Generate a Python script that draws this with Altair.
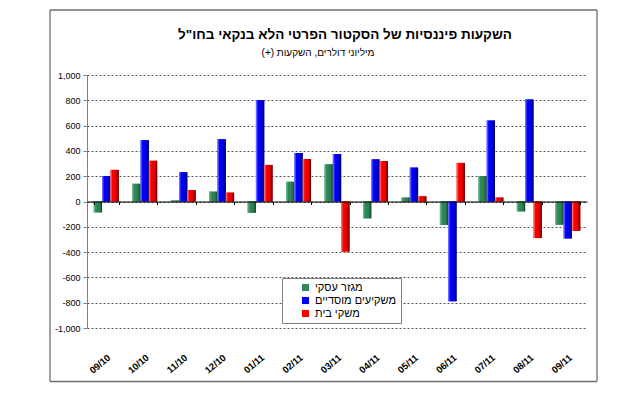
import altair as alt
import pandas as pd

months = ["09/10", "10/10", "11/10", "12/10", "01/11", "02/11", "03/11",
          "04/11", "05/11", "06/11", "07/11", "08/11", "09/11"]
series_names = ["מגזר עסקי", "משקיעים מוסדיים", "משקי בית"]
business = [-86, 140, 8, 78, -89, 156, 294, -133, 31, -185, 200, -78, -183]
institutional = [200, 484, 231, 492, 801, 383, 375, 333, 268, -789, 640, 807, -292]
household = [250, 322, 90, 70, 289, 336, -396, 320, 41, 305, 31, -289, -232]
y_ticks = [-1000, -800, -600, -400, -200, 0, 200, 400, 600, 800, 1000]

title_text = 'השקעות פיננסיות של הסקטור הפרטי הלא בנקאי בחו"ל'
subtitle_text = "(+) מיליוני דולרים, השקעות"

solid = ["#2e8b57", "#0000ff", "#ff0000"]
grad_stops = [
    ["#7cc49c", "#2e8b57", "#2a8050", "#123f28"],
    ["#8c8cff", "#0000ff", "#0000e0", "#00005a"],
    ["#ff8c8c", "#ff0000", "#e00000", "#5a0000"],
]

rows = []
for s, vals in zip(series_names, [business, institutional, household]):
    for m, v in zip(months, vals):
        rows.append({"month": m, "series": s, "value": v})
df = pd.DataFrame(rows)

FONT = "Liberation Sans"

x_scale = alt.Scale(paddingInner=0.35, paddingOuter=0.175)
x_labels = alt.X("month:N", sort=months, scale=x_scale,
                 axis=alt.Axis(title=None, orient="bottom", labelAngle=-40,
                               labelAlign="right", labelBaseline="middle",
                               labelFontSize=9.5, labelFontWeight="bold",
                               labelColor="black", labelFont=FONT,
                               labelPadding=28, labelOffset=3,
                               ticks=False, domain=False, grid=False))
x_noaxis = alt.X("month:N", sort=months, scale=x_scale, axis=None)
xoff = alt.XOffset("series:N", sort=series_names,
                   scale=alt.Scale(domain=series_names, paddingInner=0))
y_enc = alt.Y("value:Q", scale=alt.Scale(domain=[-1000, 1000], nice=False),
              axis=alt.Axis(title=None, values=y_ticks,
                            labelExpr="datum.value < 0 ? '-' + format(-datum.value, ',') : format(datum.value, ',')",
                            labelFontSize=9, labelColor="black", labelFont=FONT,
                            tickSize=4, tickColor="#808080",
                            domainColor="#808080", labelPadding=3,
                            grid=True, gridColor="#555555", gridDash=[2, 2]))

legend_layer = alt.Chart(df).mark_bar().encode(
    x=x_labels, xOffset=xoff, y=y_enc,
    color=alt.Color("series:N", sort=series_names,
                    scale=alt.Scale(domain=series_names, range=solid),
                    legend=alt.Legend(title=None, orient="none",
                                      legendX=195, legendY=203,
                                      fillColor="white", strokeColor="#808080",
                                      padding=4, symbolOffset=14,
                                      labelFont=FONT, labelFontSize=11,
                                      labelColor="black",
                                      symbolType="square", symbolSize=50,
                                      symbolStrokeWidth=0, rowPadding=1)))

grad_layers = []
for name, stops in zip(series_names, grad_stops):
    g = alt.Gradient(gradient="linear", x1=0, x2=1, y1=0, y2=0,
                     stops=[alt.GradientStop(offset=0, color=stops[0]),
                            alt.GradientStop(offset=0.25, color=stops[1]),
                            alt.GradientStop(offset=0.7, color=stops[2]),
                            alt.GradientStop(offset=1, color=stops[3])])
    grad_layers.append(
        alt.Chart(df).transform_filter(alt.datum.series == name)
        .mark_bar(fill=g).encode(x=x_noaxis, xOffset=xoff, y=y_enc))

zero_layer = alt.Chart(df).mark_bar(opacity=0).encode(
    x=alt.X("month:N", sort=months, scale=x_scale,
            axis=alt.Axis(title=None, orient="bottom", offset=-126.5,
                          labels=False, tickBand="extent", ticks=True,
                          tickSize=3, tickColor="black", domain=True,
                          domainColor="black", grid=False, zindex=1)),
    y=y_enc)

tdf = pd.DataFrame({"t": [title_text], "s": [subtitle_text]})
title_layer = alt.Chart(tdf).mark_text(font=FONT, fontSize=13.5, fontWeight="bold",
                                       align="center", color="black").encode(
    x=alt.value(258), y=alt.value(-40), text="t:N")
subtitle_layer = alt.Chart(tdf).mark_text(font=FONT, fontSize=10,
                                          align="center", color="black").encode(
    x=alt.value(231), y=alt.value(-22), text="s:N")

FL, FR, FT, FB = -37, 510, -65, 306.5
frame_style = dict(color="#6f6f6f", strokeWidth=1.3)
frame_layers = [
    alt.Chart(tdf).mark_rule(**frame_style).encode(
        x=alt.value(FL), x2=alt.value(FR), y=alt.value(FT)),
    alt.Chart(tdf).mark_rule(**frame_style).encode(
        x=alt.value(FL), x2=alt.value(FR), y=alt.value(FB)),
    alt.Chart(tdf).mark_rule(**frame_style).encode(
        x=alt.value(FL), y=alt.value(FT), y2=alt.value(FB)),
    alt.Chart(tdf).mark_rule(**frame_style).encode(
        x=alt.value(FR), y=alt.value(FT), y2=alt.value(FB)),
]

chart = alt.layer(legend_layer, *grad_layers, zero_layer, title_layer,
                  subtitle_layer, *frame_layers).resolve_axis(
    x="independent").properties(
    width=500, height=253,
    autosize=alt.AutoSizeParams(type="none"),
    padding={"left": 79, "top": 67, "right": 35, "bottom": 57}).configure_view(
    stroke=None)

chart.save("out.html", embed_options={"renderer": "svg", "actions": False})
